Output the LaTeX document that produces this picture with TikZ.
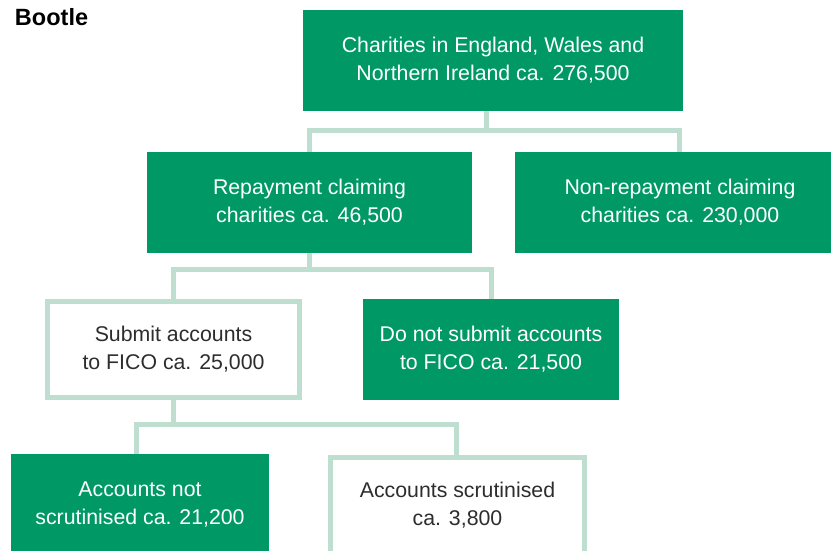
\documentclass[tikz,border=0pt]{standalone}
\usepackage{fontspec}
\setmainfont{Liberation Sans}
\definecolor{boxgreen}{RGB}{0,153,102}
\definecolor{mint}{RGB}{190,222,208}
\definecolor{darktext}{RGB}{45,45,45}
\begin{document}
\begin{tikzpicture}[x=1pt,y=-1pt,
  every node/.style={inner sep=0pt,outer sep=0pt,align=center},
  txt/.style={font=\fontsize{21.3}{28}\selectfont},
  gbox/.style={txt,rectangle,fill=boxgreen,text=white,minimum width=#1,minimum height=101},
  wbox/.style={txt,rectangle,fill=white,draw=mint,line width=5pt,text=darktext,minimum width=#1,minimum height=96},
  conn/.style={draw=mint,line width=5pt,line join=miter}]
\clip (0,0) rectangle (831,551);
\fill[white] (0,0) rectangle (831,551);

\node[anchor=base west,font=\fontsize{23.5}{28}\selectfont\bfseries,text=black] (title) at (15,26) {Bootle};

\node[gbox=380] (top) at (493,60.5) {Charities in England, Wales and\\Northern Ireland ca. 276,500};
\node[gbox=325] (rep) at (309.5,202.5) {Repayment claiming\\charities ca. 46,500};
\node[gbox=330] (nonrep) at (680,202.5) {Non-repayment claiming\\charities ca. 230,000};
\node[wbox=252] (submit) at (173.5,349.5) {Submit accounts\\to FICO ca. 25,000};
\node[gbox=256] (donot) at (491,349.5) {Do not submit accounts\\to FICO ca. 21,500};
\node[gbox=258,minimum height=102] (notscr) at (140,505) {Accounts not\\scrutinised ca. 21,200};
\node[wbox=254] (scr) at (457.5,505.5) {Accounts scrutinised\\ca. 3,800};

\coordinate (j1) at (486,131);
\coordinate (j2) at (309,269);
\coordinate (j3) at (173,424);

\draw[conn] (top.south -| j1) -- (j1);
\draw[conn] (rep.north) |- (j1) -| ([xshift=-1]nonrep.north);

\draw[conn] (rep.south -| j2) -- (j2);
\draw[conn] ([xshift=-0.5]submit.north) |- (j2) -| (donot.north);

\draw[conn] (submit.south -| j3) -- (j3);
\draw[conn] ([xshift=-4]notscr.north) |- (j3) -| ([xshift=-1.5]scr.north);
\end{tikzpicture}
\end{document}
